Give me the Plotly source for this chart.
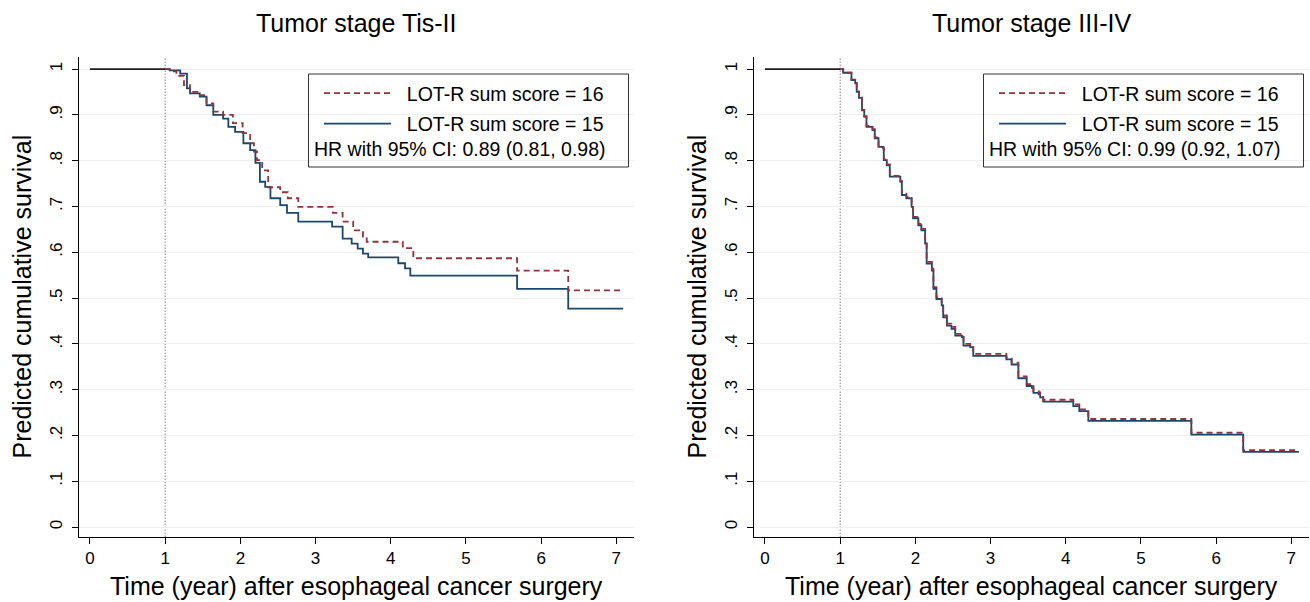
import plotly.graph_objects as go

# ---------------- data ----------------
# Tumor stage Tis-II, LOT-R = 16 (step: time of drop, survival after drop)
tis_t16 = [1.00, 1.06, 1.15, 1.25, 1.33, 1.46, 1.55, 1.64, 1.77, 1.90, 2.03, 2.13, 2.18, 2.22,
           2.29, 2.37, 2.53, 2.63, 2.77, 3.23, 3.36, 3.50, 3.63, 3.68, 4.16, 4.30, 5.68, 6.36, 7.09]
tis_s16 = [1.000, 0.995, 0.985, 0.965, 0.950, 0.943, 0.925, 0.907, 0.900, 0.882, 0.860, 0.838, 0.820, 0.801,
           0.779, 0.742, 0.731, 0.718, 0.699, 0.686, 0.667, 0.648, 0.634, 0.623, 0.609, 0.587, 0.560, 0.517, 0.517]
# Tumor stage Tis-II, LOT-R = 15
tis_t15 = [1.00, 1.06, 1.20, 1.29, 1.33, 1.46, 1.55, 1.64, 1.77, 1.84, 1.93, 2.04, 2.13, 2.20, 2.26,
           2.33, 2.40, 2.53, 2.62, 2.77, 3.22, 3.36, 3.48, 3.56, 3.63, 3.70, 4.10, 4.19, 4.26, 5.68, 6.36, 7.09]
tis_s15 = [1.000, 0.997, 0.990, 0.958, 0.947, 0.940, 0.921, 0.900, 0.892, 0.874, 0.863, 0.838, 0.823, 0.795, 0.754,
           0.743, 0.718, 0.703, 0.686, 0.667, 0.656, 0.630, 0.619, 0.608, 0.597, 0.589, 0.576, 0.565, 0.549, 0.520, 0.477, 0.477]

# Tumor stage III-IV, LOT-R = 15
adv_t15 = [1.00, 1.04, 1.15, 1.20, 1.22, 1.25, 1.29, 1.32, 1.35, 1.43, 1.46, 1.51, 1.57, 1.58, 1.62, 1.66,
           1.80, 1.82, 1.88, 1.95, 1.97, 2.04, 2.08, 2.13, 2.15, 2.22, 2.24, 2.28, 2.35, 2.37, 2.42, 2.48,
           2.53, 2.62, 2.64, 2.73, 2.77, 3.21, 3.28, 3.37, 3.48, 3.55, 3.57, 3.64, 3.66, 3.70, 4.10, 4.18,
           4.30, 5.67, 6.36, 7.10]
adv_s15 = [1.000, 0.992, 0.976, 0.969, 0.950, 0.937, 0.910, 0.896, 0.874, 0.867, 0.849, 0.830, 0.827, 0.801, 0.790, 0.765,
           0.754, 0.725, 0.718, 0.699, 0.674, 0.659, 0.648, 0.619, 0.575, 0.560, 0.520, 0.498, 0.484, 0.458, 0.440, 0.433,
           0.418, 0.415, 0.396, 0.393, 0.374, 0.366, 0.355, 0.325, 0.308, 0.304, 0.293, 0.290, 0.283, 0.274, 0.264, 0.253,
           0.232, 0.202, 0.164, 0.164]
# Tumor stage III-IV, LOT-R = 16
adv_t16 = [1.00, 1.04, 1.15, 1.20, 1.22, 1.25, 1.29, 1.32, 1.35, 1.43, 1.46, 1.51, 1.57, 1.58, 1.62, 1.66,
           1.80, 1.82, 1.88, 1.95, 1.97, 2.04, 2.08, 2.13, 2.15, 2.22, 2.24, 2.28, 2.35, 2.37, 2.42, 2.48,
           2.53, 2.62, 2.64, 2.73, 2.77, 3.21, 3.28, 3.37, 3.48, 3.55, 3.57, 3.64, 3.66, 3.70, 4.10, 4.18,
           4.30, 5.67, 6.36, 7.10]
adv_s16 = [1.000, 0.992, 0.977, 0.970, 0.951, 0.938, 0.911, 0.897, 0.876, 0.869, 0.851, 0.832, 0.829, 0.803, 0.792, 0.767,
           0.756, 0.728, 0.721, 0.702, 0.677, 0.662, 0.651, 0.622, 0.579, 0.564, 0.524, 0.502, 0.488, 0.462, 0.444, 0.437,
           0.422, 0.419, 0.400, 0.397, 0.378, 0.370, 0.359, 0.329, 0.312, 0.308, 0.297, 0.294, 0.287, 0.278, 0.268, 0.257,
           0.236, 0.206, 0.168, 0.168]

# Flat period before conditional start (year 0 to 1)
pre_t = [0.0, 1.0]
pre_s = [1.0, 1.0]

titles = ["Tumor stage Tis-II", "Tumor stage III-IV"]
name16 = "LOT-R sum score = 16"
name15 = "LOT-R sum score = 15"
hr_texts = ["HR with 95% CI: 0.89 (0.81, 0.98)", "HR with 95% CI: 0.99 (0.92, 1.07)"]
y_ticks = [0, 0.1, 0.2, 0.3, 0.4, 0.5, 0.6, 0.7, 0.8, 0.9, 1.0]
y_ticklabels = ["0", ".1", ".2", ".3", ".4", ".5", ".6", ".7", ".8", ".9", "1"]
x_ticks = [0, 1, 2, 3, 4, 5, 6, 7]
x_title = "Time (year) after esophageal cancer surgery"
y_title = "Predicted cumulative survival"

# ---------------- style ----------------
W, H = 1310, 602
FONT = "Liberation Sans, Arial, sans-serif"
RED = "#90353b"
BLUE = "#1a476f"
LEG_SIZE = 19.5

def px(x):
    return x / W

def py(y):
    return 1 - y / H

fig = go.Figure()

panels = [
    dict(xa="x", ya="y", leg="legend", t15=tis_t15, s15=tis_s15, t16=tis_t16, s16=tis_s16),
    dict(xa="x2", ya="y2", leg="legend2", t15=adv_t15, s15=adv_s15, t16=adv_t16, s16=adv_s16),
]

for p in panels:
    fig.add_trace(go.Scatter(x=pre_t, y=pre_s, mode="lines", xaxis=p["xa"], yaxis=p["ya"],
                             line=dict(color="#1e1e1e", width=1.8), showlegend=False, hoverinfo="skip"))
    fig.add_trace(go.Scatter(x=p["t15"], y=p["s15"], mode="lines", line_shape="hv",
                             xaxis=p["xa"], yaxis=p["ya"], name="\u00a0\u00a0" + name15,
                             legend=p["leg"], legendgroup="g15" + p["xa"], legendrank=2,
                             line=dict(color=BLUE, width=1.8)))
    fig.add_trace(go.Scatter(x=p["t16"], y=p["s16"], mode="lines", line_shape="hv",
                             xaxis=p["xa"], yaxis=p["ya"], name="\u00a0\u00a0" + name16,
                             legend=p["leg"], legendgroup="g16" + p["xa"], legendrank=1,
                             line=dict(color=RED, width=1.8, dash="6px,4px")))

xrange = [-0.15, 7.24]
yrange = [-0.021, 1.027]
xdoms = [[px(78.7), px(634.4)], [px(753.7), px(1309.4)]]
ydom = [py(536.7), py(56.7)]

axis_common = dict(showline=True, linecolor="black", linewidth=1, ticks="outside", ticklen=6,
                   tickwidth=1, tickcolor="black", zeroline=False,
                   tickfont=dict(family=FONT, size=17, color="black"))

for i, suffix in enumerate(["", "2"]):
    fig.update_layout(**{
        "xaxis" + suffix: dict(domain=xdoms[i], range=xrange, tickvals=x_ticks, showgrid=False,
                               anchor="y" + suffix, **axis_common),
        "yaxis" + suffix: dict(domain=ydom, range=yrange, tickvals=y_ticks, ticktext=y_ticklabels,
                               tickangle=-90, showgrid=True, gridcolor="#efefef", gridwidth=1,
                               ticklabelstandoff=3, anchor="x" + suffix, **axis_common),
    })

shapes = []
annotations = []
offsets = [0, 675]
for i, off in enumerate(offsets):
    xa = "x" if i == 0 else "x2"
    ya = "y" if i == 0 else "y2"
    shapes.append(dict(type="line", xref=xa, yref=ya + " domain", x0=1, x1=1, y0=0, y1=1,
                       line=dict(color="#444444", width=1, dash="1px,2px"), layer="below"))
    # legend box
    shapes.append(dict(type="rect", xref="paper", yref="paper",
                       x0=px(308.5 + off), x1=px(628.5 + off), y0=py(167), y1=py(74),
                       line=dict(color="#333333", width=1), fillcolor="rgba(0,0,0,0)"))
    annotations.append(dict(text=hr_texts[i], xref="paper", yref="paper", x=px(312 + off), y=py(149),
                            xanchor="left", yanchor="middle", showarrow=False,
                            font=dict(family=FONT, size=LEG_SIZE, color="black")))
    cx = (xdoms[i][0] + xdoms[i][1]) / 2
    annotations.append(dict(text=titles[i], xref="paper", yref="paper", x=cx, y=py(23),
                            xanchor="center", yanchor="middle", showarrow=False,
                            font=dict(family=FONT, size=25, color="black")))
    annotations.append(dict(text=x_title, xref="paper", yref="paper", x=cx, y=py(586),
                            xanchor="center", yanchor="middle", showarrow=False,
                            font=dict(family=FONT, size=25, color="black")))
    annotations.append(dict(text=y_title, xref="paper", yref="paper", x=px(22 + off), y=py(296.5),
                            xanchor="center", yanchor="middle", showarrow=False, textangle=-90,
                            font=dict(family=FONT, size=25, color="black")))

legend_common = dict(xanchor="left", yanchor="top", bgcolor="rgba(0,0,0,0)", borderwidth=0,
                     itemwidth=67, tracegroupgap=2, orientation="v",
                     font=dict(family=FONT, size=LEG_SIZE, color="black"))
fig.update_layout(
    width=W, height=H,
    margin=dict(l=0, r=0, t=0, b=0),
    paper_bgcolor="white", plot_bgcolor="white",
    shapes=shapes, annotations=annotations,
    legend=dict(x=px(319), y=py(74), **legend_common),
    legend2=dict(x=px(319 + 675), y=py(74), **legend_common),
    font=dict(family=FONT, color="black"),
)

fig.write_html("out.html", config={"displayModeBar": False},
               post_script="document.body.style.margin='0';document.body.style.overflow='hidden';")
